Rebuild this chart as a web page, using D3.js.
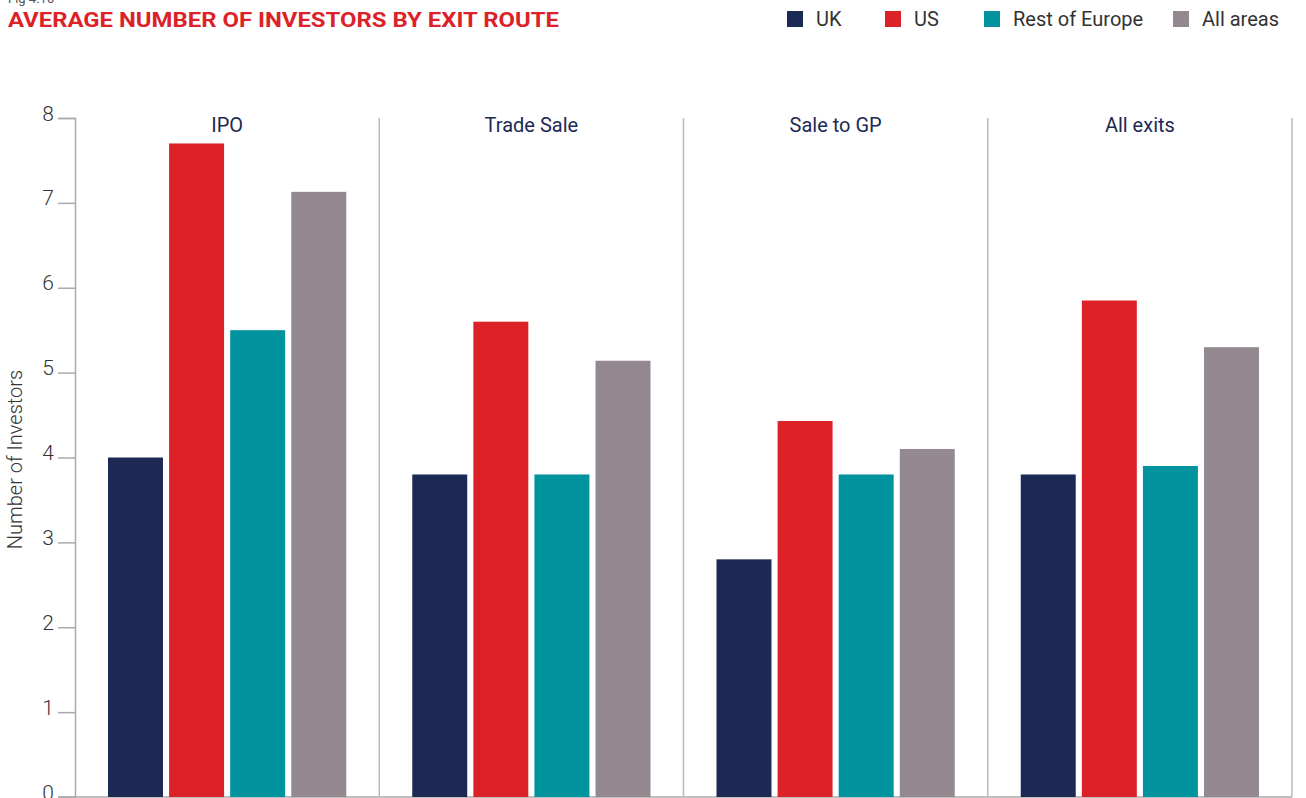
<!DOCTYPE html>
<html>
<head>
<meta charset="utf-8">
<script src="https://cdn.jsdelivr.net/npm/d3@7"></script>
<style>
  body { margin: 0; background: #fff; }
  text { font-family: Roboto, "Noto Sans", sans-serif; }
</style>
</head>
<body>
<div id="chart"></div>
<script>
// chart data
const routes = ['IPO', 'Trade Sale', 'Sale to GP', 'All exits'];
const areas = ['UK', 'US', 'Rest of Europe', 'All areas'];
const ukValues = [4.0, 3.8, 2.8, 3.8];
const usValues = [7.7, 5.6, 4.43, 5.85];
const roeValues = [5.5, 3.8, 3.8, 3.9];
const allValues = [7.13, 5.14, 4.1, 5.3];
const yTicks = [0, 1, 2, 3, 4, 5, 6, 7, 8];

const colors = ['#1c2955', '#dc2228', '#00939e', '#948990'];
const seriesValues = [ukValues, usValues, roeValues, allValues];

const W = 1306, H = 798;
const margin = {left: 75, right: 14, top: 118, bottom: 1};

let svg = d3.select('#chart')
  .append('svg')
  .attr('width', W)
  .attr('height', H);

// title
svg.append('text')
  .attr('x', 8)
  .attr('y', 3)
  .attr('font-size', 13)
  .attr('fill', '#555')
  .text('Fig 4.10');

svg.append('text')
  .attr('x', 8)
  .attr('y', 27)
  .attr('font-size', 21)
  .attr('font-weight', 'bold')
  .attr('fill', '#dc2228')
  .attr('textLength', 551)
  .attr('lengthAdjust', 'spacingAndGlyphs')
  .text('AVERAGE NUMBER OF INVESTORS BY EXIT ROUTE');

// legend
const legendX = [787, 885, 984, 1173];
let legend = svg.append('g');
areas.forEach(function(a, i) {
  let g = legend.append('g')
    .attr('transform', 'translate(' + legendX[i] + ',11)');
  g.append('rect')
    .attr('width', 16)
    .attr('height', 16)
    .attr('fill', colors[i]);
  g.append('text')
    .attr('x', 29)
    .attr('y', 15)
    .attr('font-size', 20)
    .attr('fill', '#333')
    .text(a);
});

let y = d3.scaleLinear()
  .domain([0, 8])
  .range([H - margin.bottom, margin.top]);

let x0 = d3.scaleBand()
  .domain(routes)
  .range([margin.left, W - margin.right])
  .paddingInner(0)
  .paddingOuter(0);

let x1 = d3.scaleBand()
  .domain(areas)
  .range([33, x0.bandwidth() - 33])
  .paddingInner(0.1);

// y axis
let yAxis = d3.axisLeft(y)
  .tickValues(yTicks)
  .tickSize(17)
  .tickPadding(4)
  .tickFormat(d3.format('d'));

let ag = svg.append('g')
  .attr('transform', 'translate(' + margin.left + ',0)')
  .call(yAxis);
ag.select('.domain').attr('stroke', '#aaa').attr('stroke-width', 1.5);
ag.selectAll('.tick line').attr('stroke', '#aaa').attr('stroke-width', 1.5);
ag.selectAll('.tick text')
  .attr('font-size', 21)
  .attr('font-weight', 300)
  .attr('fill', '#333')
  .attr('dy', '0.1em');

// baseline
svg.append('line')
  .attr('x1', margin.left - 17)
  .attr('x2', W - margin.right)
  .attr('y1', y(0))
  .attr('y2', y(0))
  .attr('stroke', '#aaa')
  .attr('stroke-width', 1.5);

// separators
svg.selectAll('.sep')
  .data(routes)
  .enter()
  .append('line')
  .attr('class', 'sep')
  .attr('x1', d => x0(d) + x0.bandwidth())
  .attr('x2', d => x0(d) + x0.bandwidth())
  .attr('y1', y(8))
  .attr('y2', y(0))
  .attr('stroke', '#bbb')
  .attr('stroke-width', 1.5);

// y label
svg.append('text')
  .attr('transform', 'translate(22,' + (y(4) + 2) + ') rotate(-90)')
  .attr('text-anchor', 'middle')
  .attr('font-size', 20)
  .attr('font-weight', 300)
  .attr('fill', '#333')
  .text('Number of Investors');

// bars
let groups = svg.selectAll('.route')
  .data(routes)
  .enter()
  .append('g')
  .attr('class', 'route')
  .attr('transform', d => 'translate(' + x0(d) + ',0)');

groups.append('text')
  .attr('x', x0.bandwidth() / 2)
  .attr('y', 132)
  .attr('text-anchor', 'middle')
  .attr('font-size', 20)
  .attr('fill', '#1c2955')
  .text(d => d);

groups.selectAll('rect')
  .data((d, i) => areas.map((a, j) => ({area: a, value: seriesValues[j][i], c: j})))
  .enter()
  .append('rect')
  .attr('x', d => x1(d.area))
  .attr('width', x1.bandwidth())
  .attr('y', d => y(d.value))
  .attr('height', d => y(0) - y(d.value))
  .attr('fill', d => colors[d.c]);
</script>
</body>
</html>
